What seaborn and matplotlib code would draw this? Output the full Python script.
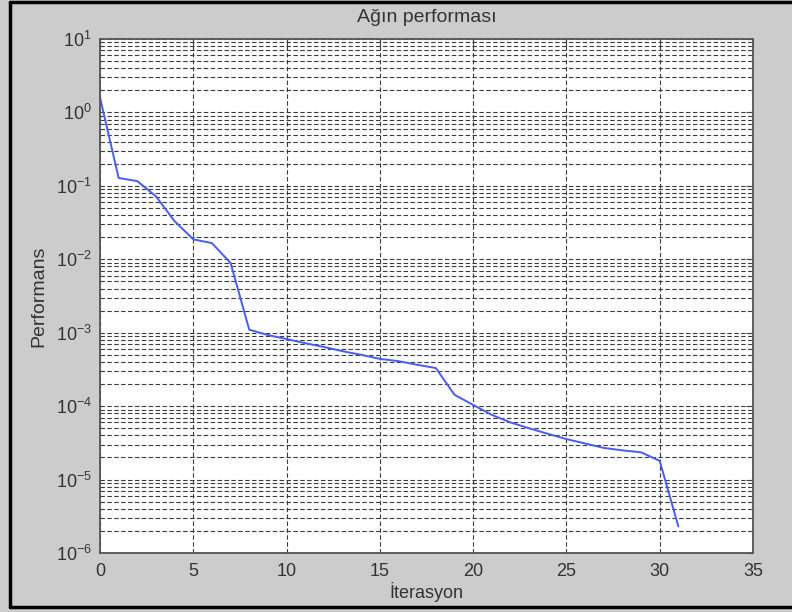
import numpy as np
import pandas as pd
import matplotlib
matplotlib.use("Agg")
import matplotlib.pyplot as plt
import seaborn as sns
from matplotlib.lines import Line2D
from matplotlib.ticker import LogLocator, MultipleLocator, NullFormatter

# values
iterasyon = list(range(32))
performans = [1.6, 0.128, 0.116, 0.072, 0.033, 0.0187, 0.0166, 0.0089, 0.0011, 0.00093,
              0.00082, 0.00072, 0.00064, 0.00056, 0.0005, 0.00044, 0.00041, 0.000366, 0.00033, 0.000143,
              0.000104, 7.6e-5, 6.0e-5, 5.0e-5, 4.2e-5, 3.56e-5, 3.1e-5, 2.7e-5, 2.5e-5, 2.35e-5,
              1.8e-5, 2.3e-6]

df = pd.DataFrame({"iterasyon": iterasyon, "performans": performans})

sns.set_style("white")
plt.rcParams["font.family"] = ["Liberation Sans", "DejaVu Sans"]

fig = plt.figure(figsize=(7.92, 6.12), dpi=100, facecolor="#cccccc")
ax = fig.add_axes([100 / 792, 1 - 553 / 612, 653 / 792, 514 / 612])
ax.set_facecolor("white")

sns.lineplot(data=df, x="iterasyon", y="performans", ax=ax, color="#4a5cf2", linewidth=1.4)

ax.set_yscale("log")
ax.set_xlim(0, 35)
ax.set_ylim(1e-6, 1e1)
ax.xaxis.set_major_locator(MultipleLocator(5))
ax.yaxis.set_major_locator(LogLocator(base=10, numticks=10))
ax.yaxis.set_minor_locator(LogLocator(base=10, subs=np.arange(2, 10), numticks=20))
ax.yaxis.set_minor_formatter(NullFormatter())

grid_kw = dict(color="#3a3a3a", linestyle=(0, (4, 2.2)), linewidth=0.8)
ax.grid(True, which="major", axis="both", **grid_kw)
ax.grid(True, which="minor", axis="y", **grid_kw)

ax.tick_params(axis="both", which="both", direction="in", top=True, right=True,
               labelsize=13, colors="#444444", labelcolor="#333333")
ax.tick_params(which="major", length=5)
ax.tick_params(which="minor", length=3)
ax.tick_params(axis="x", pad=7)
ax.tick_params(axis="y", pad=6)
for s in ax.spines.values():
    s.set_color("#555555")
    s.set_linewidth(1.3)

ax.set_title("Ağın performası", fontsize=14, color="#333333", pad=12)
ax.set_xlabel("İterasyon", fontsize=13, color="#333333", labelpad=2)
ax.set_ylabel("Performans", fontsize=14, color="#333333", labelpad=6)

# black frame around the figure (left, top, bottom)
frame = dict(transform=fig.transFigure, color="black", linewidth=2.5)
fig.add_artist(Line2D([10 / 792, 10 / 792], [5 / 612, 1 - 1.5 / 612], **frame))
fig.add_artist(Line2D([10 / 792, 1], [1 - 1.5 / 612, 1 - 1.5 / 612], **frame))
fig.add_artist(Line2D([10 / 792, 1], [5 / 612, 5 / 612], **frame))

fig.savefig("out.png", dpi=100, facecolor=fig.get_facecolor())
